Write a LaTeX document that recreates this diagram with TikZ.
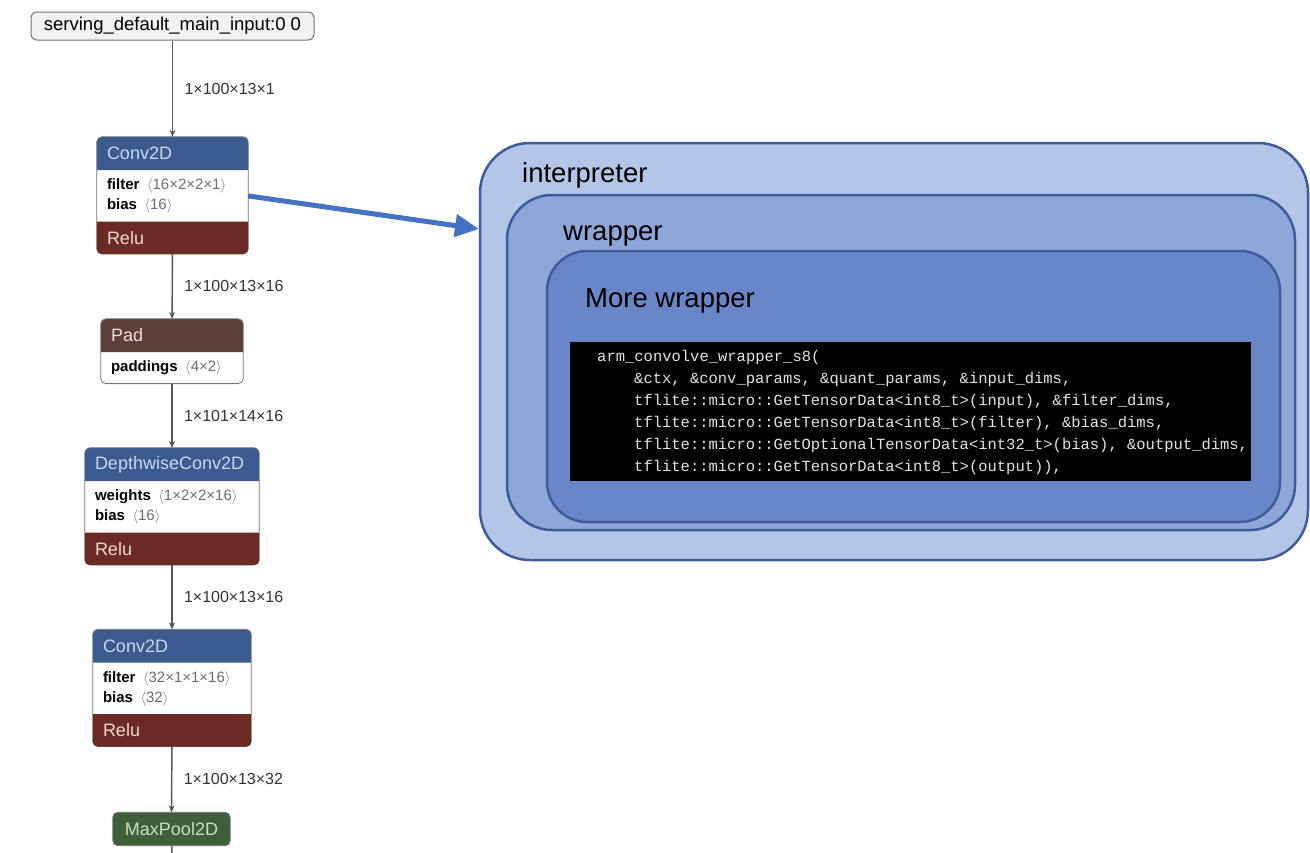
\documentclass[tikz,border=0pt]{standalone}
\usepackage{fontspec}
\setmainfont{Liberation Sans}
\setmonofont{Liberation Mono}
\usetikzlibrary{arrows.meta, positioning, backgrounds}
\definecolor{opblue}{RGB}{59, 91, 142}
\definecolor{optext}{RGB}{200, 216, 240}
\definecolor{relured}{RGB}{107, 42, 36}
\definecolor{relutext}{RGB}{240, 216, 208}
\definecolor{padbrown}{RGB}{91, 63, 56}
\definecolor{padtext}{RGB}{236, 222, 216}
\definecolor{poolgreen}{RGB}{62, 95, 58}
\definecolor{pooltext}{RGB}{200, 226, 192}
\definecolor{edgegray}{RGB}{85, 85, 85}
\definecolor{labelgray}{RGB}{50, 50, 50}
\definecolor{dimgray}{RGB}{110, 110, 110}
\definecolor{arrowblue}{RGB}{68, 114, 196}
\definecolor{layerline}{RGB}{62, 92, 154}
\definecolor{interpfill}{RGB}{180, 198, 231}
\definecolor{wrapfill}{RGB}{141, 167, 216}
\definecolor{morefill}{RGB}{104, 134, 200}
\definecolor{codegray}{RGB}{228, 228, 228}

\newcommand{\dims}[1]{{\color{dimgray}\,$\langle$#1$\rangle$}}
% rounded background of an op box: top part, bottom part, head colour
\newcommand{\opback}[3]{%
  \fill[white, rounded corners=5pt] (#1.north west) rectangle (#2.south east);
  \fill[#3, rounded corners=5pt] (#1.south west) |- (#1.north) -| (#1.south east);
  \draw[opline] (#1.north west) rectangle (#2.south east);
}
\newcommand{\opfoot}[1]{%
  \fill[relured, rounded corners=5pt] (#1.north west) |- (#1.south) -| (#1.north east);
}

\begin{document}
\begin{tikzpicture}[x=1pt, y=-1pt,
    head/.style={minimum height=33pt, inner xsep=10pt, inner ysep=0pt, align=left,
                 font=\fontsize{18}{21}\selectfont},
    body/.style={minimum height=51pt, inner xsep=10pt, inner ysep=0pt, align=left,
                 font=\fontsize{15}{20}\selectfont},
    foot/.style={minimum height=32pt, inner xsep=10pt, inner ysep=0pt, align=left,
                 text=relutext, font=\fontsize{18}{21}\selectfont},
    opline/.style={draw=black!55, line width=0.8pt, rounded corners=5pt},
    edge/.style={draw=edgegray, line width=1.4pt, -{Stealth[length=7pt, width=6pt]}},
    elabel/.style={right=8pt, font=\fontsize{16}{19}\selectfont, text=labelgray},
    layer/.style={draw=layerline, line width=2.5pt, inner sep=0pt},
    title/.style={anchor=base west, inner sep=0pt, font=\fontsize{27.5}{30}\selectfont},
    bigarrow/.style={draw=arrowblue, line width=5pt, -{Triangle[length=24pt, width=22pt]}}]

    \useasboundingbox (0,0) rectangle (1310,852);

    % model graph
    \node[draw=black!55, line width=1pt, fill=black!5, rounded corners=6pt, minimum width=283pt,
          minimum height=28pt, font=\fontsize{18.5}{21}\selectfont] (input) at (172.5,26) {serving\_default\_main\_input:0 0};

    \node[head, text width=131pt, text=optext] (conv1) at (172.5,153.5) {Conv2D};
    \node[body, text width=131pt, below=0pt of conv1] (conv1b) {\textbf{filter}~\dims{16×2×2×1}\\\textbf{bias}~\dims{16}};
    \node[foot, text width=131pt, below=0pt of conv1b] (conv1r) {Relu};

    \node[head, text width=122pt, text=padtext] (pad) at (172,335.5) {Pad};
    \node[body, text width=122pt, minimum height=31pt, below=0pt of pad] (padb) {\textbf{paddings}~\dims{4×2}};

    \node[head, text width=154pt, text=optext] (dw) at (172,464.5) {DepthwiseConv2D};
    \node[body, text width=154pt, below=0pt of dw] (dwb) {\textbf{weights}~\dims{1×2×2×16}\\\textbf{bias}~\dims{16}};
    \node[foot, text width=154pt, below=0pt of dwb] (dwr) {Relu};

    \node[head, text width=138pt, text=optext] (conv2) at (172,646) {Conv2D};
    \node[body, text width=138pt, below=0pt of conv2] (conv2b) {\textbf{filter}~\dims{32×1×1×16}\\\textbf{bias}~\dims{32}};
    \node[foot, text width=138pt, below=0pt of conv2b] (conv2r) {Relu};

    \node[head, minimum width=117pt, text=pooltext] (pool) at (171.5,829) {MaxPool2D};
    \coordinate (out) at (172,860);

    \begin{scope}[on background layer]
        \opback{conv1}{conv1r}{opblue}
        \opfoot{conv1r}
        \opback{pad}{padb}{padbrown}
        \opback{dw}{dwr}{opblue}
        \opfoot{dwr}
        \opback{conv2}{conv2r}{opblue}
        \opfoot{conv2r}
        \fill[poolgreen, rounded corners=5pt] (pool.north west) rectangle (pool.south east);
        \draw[opline] (pool.north west) rectangle (pool.south east);
    \end{scope}

    % tensors
    \draw[edge] (input) -- node[elabel]{1×100×13×1} (conv1);
    \draw[edge] (conv1r) -- node[elabel]{1×100×13×16} (pad);
    \draw[edge] (padb) -- node[elabel]{1×101×14×16} (dw);
    \draw[edge] (dwr) -- node[elabel]{1×100×13×16} (conv2);
    \draw[edge] (conv2r) -- node[elabel]{1×100×13×32} (pool);
    \draw[draw=edgegray, line width=1.4pt] (pool) -- (out);

    % nested layers
    \node[layer, fill=interpfill, minimum width=828pt, minimum height=417pt, rounded corners=50pt] (interp) at (894,351.5) {};
    \node[layer, fill=wrapfill, minimum width=788pt, minimum height=335pt, rounded corners=45pt] (wrap) at (901,362.5) {};
    \node[layer, fill=morefill, minimum width=733pt, minimum height=271pt, rounded corners=40pt] (morewrap) at (913.5,386.5) {};
    \node[title] (interptitle) at (522,182) {interpreter};
    \node[title] (wraptitle) at (563,240) {wrapper};
    \node[title] (moretitle) at (585,307) {More wrapper};

    \node[fill=black, minimum width=681pt, minimum height=139pt, inner sep=0pt] (code) at (910.5,411.5) {};
    \node[anchor=north west, inner sep=0pt, align=left, text=codegray,
          font=\ttfamily\fontsize{15.5}{22}\selectfont] (codelines) at (597,350) {%
        arm\_convolve\_wrapper\_s8(\\
        \hspace*{37pt}\&ctx, \&conv\_params, \&quant\_params, \&input\_dims,\\
        \hspace*{37pt}tflite::micro::GetTensorData<int8\_t>(input), \&filter\_dims,\\
        \hspace*{37pt}tflite::micro::GetTensorData<int8\_t>(filter), \&bias\_dims,\\
        \hspace*{37pt}tflite::micro::GetOptionalTensorData<int32\_t>(bias), \&output\_dims,\\
        \hspace*{37pt}tflite::micro::GetTensorData<int8\_t>(output)),};

    % zoom into the op
    \coordinate (tip) at (479,229);
    \draw[bigarrow] (conv1b.east) -- (tip);
\end{tikzpicture}
\end{document}
